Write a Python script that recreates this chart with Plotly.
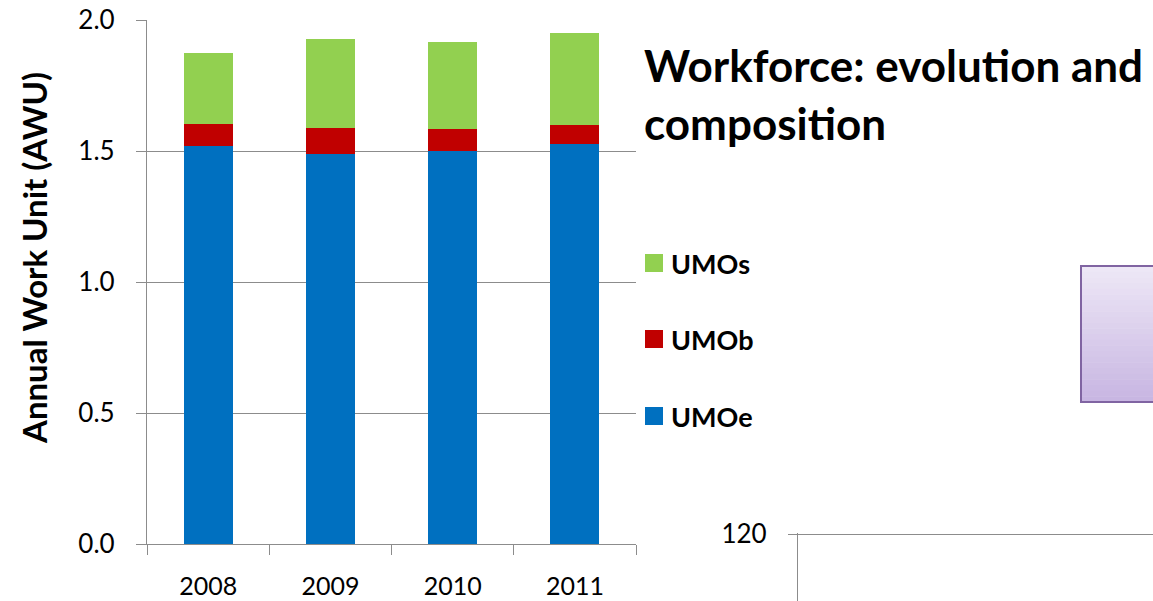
import plotly.graph_objects as go

years = ["2008", "2009", "2010", "2011"]
umoe = [1.518, 1.490, 1.499, 1.526]
umob = [0.086, 0.099, 0.084, 0.072]
umos = [0.269, 0.337, 0.334, 0.352]
series_names = ["UMOe", "UMOb", "UMOs"]
series_colors = ["#0070C0", "#C00000", "#92D050"]
y_title = "Annual Work Unit (AWU)"
title_lines = ["Workforce: evolution and", "composition"]
second_axis_tick = [120]

W, H = 1153, 601
FONT = "Lato, 'Open Sans', sans-serif"
GRID = "#8c8c8c"

def px_x(p):
    return p / W

def px_y(p):
    return 1 - p / H

fig = go.Figure()
for name, vals, col in zip(series_names, [umoe, umob, umos], series_colors):
    fig.add_trace(go.Bar(x=years, y=vals, name=name, marker=dict(color=col, line=dict(width=0)),
                         showlegend=False))

fig.add_trace(go.Scatter(x=[], y=[], xaxis="x2", yaxis="y2", showlegend=False))

fig.update_layout(
    width=W, height=H,
    margin=dict(l=0, r=0, t=0, b=0, pad=0, autoexpand=False),
    paper_bgcolor="white", plot_bgcolor="white",
    barmode="stack", bargap=0.6,
    font=dict(family=FONT, size=24, color="#000"),
    xaxis=dict(domain=[px_x(147), px_x(636)], type="category", tickson="boundaries",
               ticks="outside", ticklen=10, tickcolor=GRID, tickwidth=1.3,
               showline=True, linecolor=GRID, linewidth=1.3, showgrid=False,
               tickfont=dict(size=25), ticklabelstandoff=20, automargin=False),
    yaxis=dict(domain=[px_y(544), px_y(20)], range=[0, 2], dtick=0.5, tickformat=".1f",
               ticks="outside", ticklen=10, tickcolor=GRID, tickwidth=1.3,
               showline=True, linecolor=GRID, linewidth=1.3,
               showgrid=True, gridcolor=GRID, gridwidth=1.3, zeroline=False,
               tickfont=dict(size=26), ticklabelstandoff=16, automargin=False),
    xaxis2=dict(domain=[px_x(798), 1], anchor="y2", range=[0, 1], showline=False,
                showgrid=False, showticklabels=False, ticks="", zeroline=False,
                automargin=False),
    yaxis2=dict(domain=[0, px_y(533)], anchor="x2", range=[100, 120.4],
                tickvals=second_axis_tick, ticks="outside", ticklen=9, tickcolor=GRID,
                tickwidth=1.3, showline=True, linecolor=GRID, linewidth=1.3,
                showgrid=True, gridcolor=GRID, gridwidth=1.3, zeroline=False,
                tickfont=dict(size=26), ticklabelstandoff=16, automargin=False),
)

# y-axis title
fig.add_annotation(text="<b>%s</b>" % y_title, xref="paper", yref="paper",
                   x=px_x(34), y=px_y(258), textangle=-90, showarrow=False,
                   font=dict(size=33, family=FONT), xanchor="center", yanchor="middle")

# title
for i, line in enumerate(title_lines):
    fig.add_annotation(text="<b>%s</b>" % line, xref="paper", yref="paper",
                       x=px_x(642), y=px_y(65 + 58 * i), showarrow=False,
                       xanchor="left", yanchor="middle", font=dict(size=44, family=FONT))

# legend (top to bottom: UMOs, UMOb, UMOe)
leg_y = [263, 339, 416]
for (name, col), cy in zip(list(zip(series_names, series_colors))[::-1], leg_y):
    fig.add_shape(type="rect", xref="paper", yref="paper",
                  x0=px_x(645), x1=px_x(663), y0=px_y(cy - 9), y1=px_y(cy + 9),
                  fillcolor=col, line=dict(width=0))
    fig.add_annotation(text="<b>%s</b>" % name, xref="paper", yref="paper",
                       x=px_x(669), y=px_y(cy), showarrow=False, xanchor="left",
                       yanchor="middle", font=dict(size=27, family=FONT))

# purple gradient box (partially visible, extends past the right edge)
top_c = (237, 231, 246)
bot_c = (200, 182, 226)
n = 24
y0, y1 = 266, 402
xl, xr = 1081, 1200
for i in range(n):
    t = i / (n - 1)
    c = tuple(int(round(a + (b - a) * t)) for a, b in zip(top_c, bot_c))
    ya = y0 + (y1 - y0) * i / n
    yb = y0 + (y1 - y0) * (i + 1) / n
    fig.add_shape(type="rect", xref="paper", yref="paper",
                  x0=px_x(xl), x1=px_x(xr), y0=px_y(ya), y1=px_y(yb + 0.5),
                  fillcolor="rgb(%d,%d,%d)" % c, line=dict(width=0), layer="above")
fig.add_shape(type="path", xref="paper", yref="paper",
              path="M %f,%f L %f,%f L %f,%f L %f,%f" % (
                  px_x(xr), px_y(y0), px_x(xl), px_y(y0),
                  px_x(xl), px_y(y1), px_x(xr), px_y(y1)),
              line=dict(color="#8064A2", width=2), layer="above")

fig.write_html("out.html", config={"displayModeBar": False},
               post_script="document.body.style.margin='0';")
